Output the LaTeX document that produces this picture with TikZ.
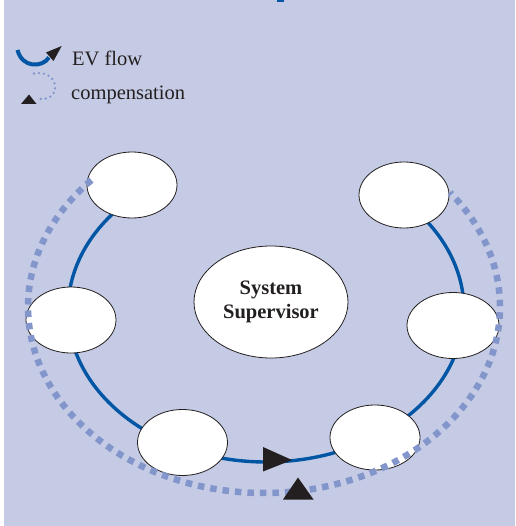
\documentclass[tikz,border=0pt]{standalone}
\usepackage{fontspec}
\setmainfont{Liberation Serif}
\usetikzlibrary{shapes.geometric}
\definecolor{bg}{RGB}{197,203,228}
\definecolor{evblue}{RGB}{0,86,164}
\definecolor{compdot}{RGB}{131,150,204}
\definecolor{ink}{RGB}{35,31,32}
\begin{document}
\begin{tikzpicture}[x=1pt,y=-1pt,
  unit/.style={draw=ink,line width=0.8pt,fill=white,ellipse,minimum width=90pt,minimum height=66pt,inner sep=0pt},
  super/.style={draw=ink,line width=0.8pt,fill=white,ellipse,minimum width=154pt,minimum height=112pt,inner sep=0pt,
     font=\fontsize{20.5}{24}\selectfont\bfseries,text=ink,align=center},
  evline/.style={draw=evblue,line width=3.4pt},
  compline/.style={draw=compdot,line width=6.5pt,dash pattern=on 6.5pt off 6pt},
  legdot/.style={draw=compdot,line width=2.6pt,line cap=round,dash pattern=on 0pt off 5pt},
  legtext/.style={anchor=base west,inner sep=0pt,text=ink,font=\fontsize{20.5}{24}\selectfont},
  tipfill/.style={fill=ink}]
\useasboundingbox (0,0) rectangle (515,526);
\fill[white] (0,0) rectangle (515,526);
\fill[bg] (4,0) rectangle (515,526);
\fill[evblue] (277,0) rectangle (284,2.5);
% legend
\coordinate (l1a) at (17.5,50);
\coordinate (l1b) at (49,57.5);
\draw[evblue,line width=4pt] (l1a) .. controls (22,68) and (42,68) .. (l1b);
\fill[tipfill] (46,52.5) -- (53.5,61) -- (61.7,46) -- cycle;
\node[legtext] (evt) at (72,66) {EV flow};
\coordinate (l2a) at (34,73.5);
\coordinate (l2b) at (40,99);
\draw[legdot] (l2a) .. controls (60,69) and (62,101) .. (l2b);
\fill[tipfill] (21,104) -- (36.5,104) -- (29,94.5) -- cycle;
\node[legtext] (ct) at (71,100) {compensation};
% EV flow loop
\draw[evline] (266,310) ++(-130:198 and 152) arc[start angle=-130,end angle=-405,x radius=198,y radius=152];
% nodes
\node[unit] (tl) at (132,185) {};
\node[unit] (lm) at (71,320) {};
\node[unit] (bl) at (182.5,442.5) {};
\node[unit,minimum height=65pt] (br) at (375,437.5) {};
\node[unit,minimum width=92pt] (rm) at (453,325.5) {};
\node[unit] (tr) at (404,195) {};
\node[super] (sup) at (271,302) {System\\Supervisor};
% compensation loop
\draw[compline] (264,307) ++(-137:236 and 186) arc[start angle=-137,end angle=-398,x radius=236,y radius=186];
% arrowheads
\fill[tipfill] (263,447) -- (263,471.5) -- (292,460) -- cycle;
\fill[tipfill] (283,499.5) -- (313.5,499.5) -- (298,477.5) -- cycle;
\end{tikzpicture}
\end{document}
